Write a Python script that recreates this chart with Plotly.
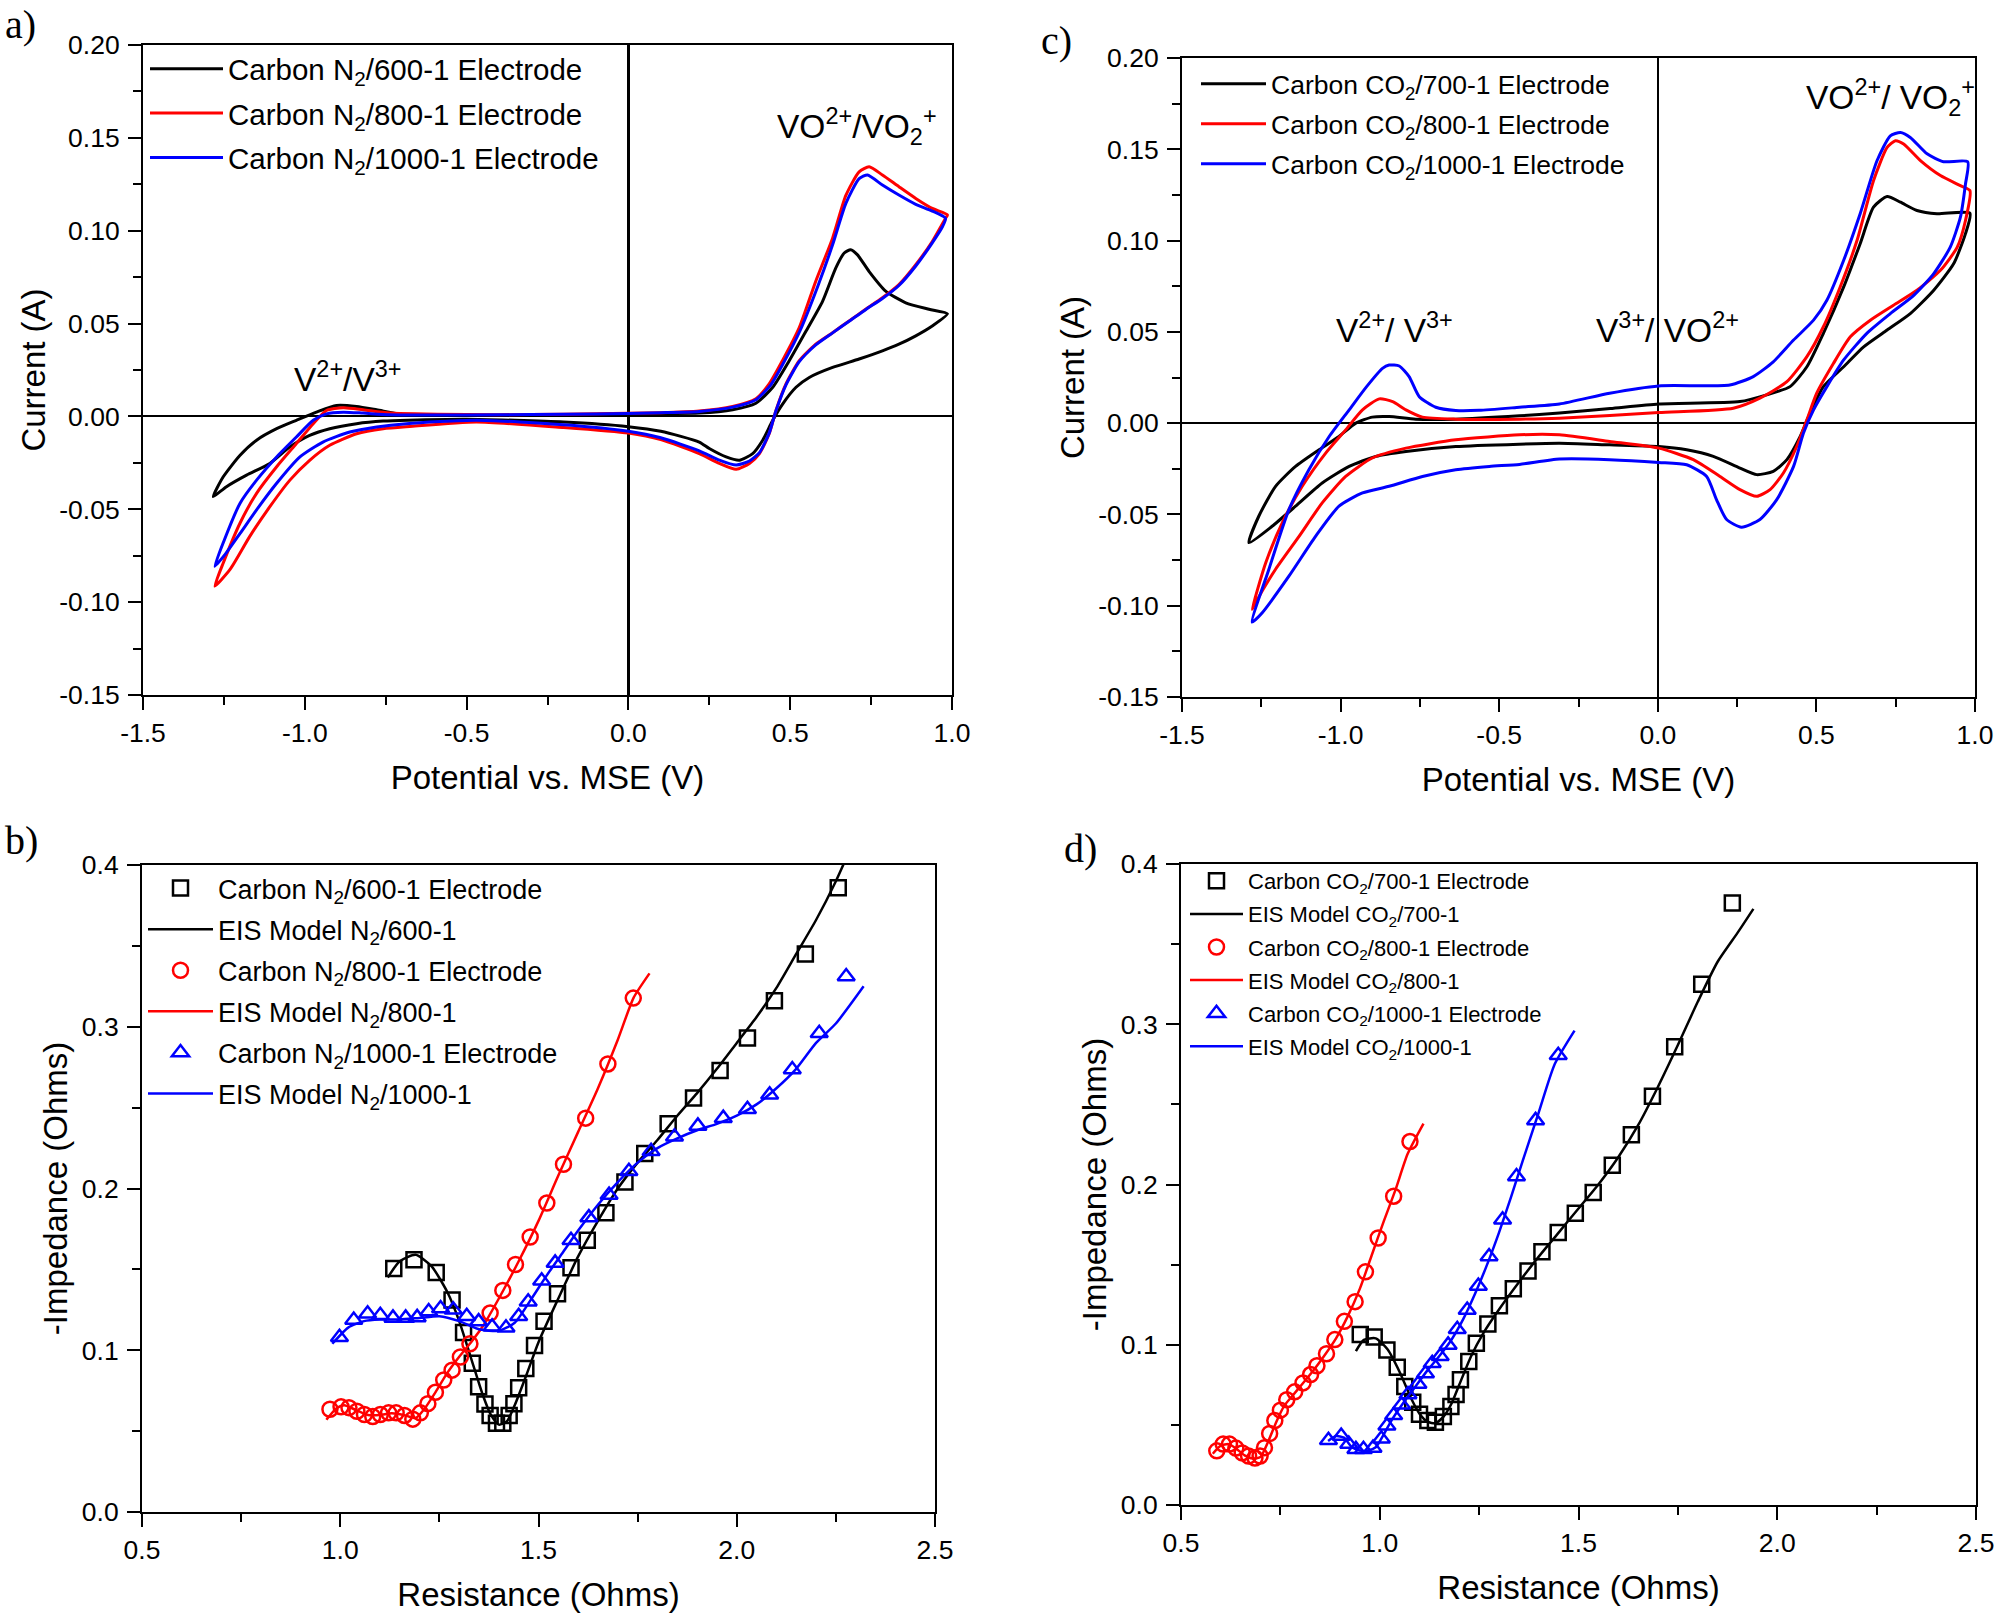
import plotly.graph_objects as go

# ---------------- Panel a: CV, N2 carbons ----------------
a600_x = [-1.283, -1.252, -1.200, -1.149, -1.087, -1.026, -0.964, -0.902, -0.840, -0.778, -0.697, -0.500, -0.300, -0.100, 0.100,
          0.219, 0.322, 0.394, 0.446, 0.497, 0.549, 0.600, 0.641, 0.667, 0.687, 0.708, 0.744, 0.795, 0.857, 0.929, 0.986,
          0.939, 0.888, 0.836, 0.785, 0.713, 0.631, 0.559, 0.518, 0.477, 0.446, 0.415, 0.384, 0.343, 0.302, 0.250, 0.219,
          0.100, 0.000, -0.200, -0.500, -0.680, -0.758, -0.840, -0.923, -0.985, -1.046, -1.108, -1.180, -1.242, -1.283]
a600_y = [-0.0432, -0.0325, -0.0209, -0.0128, -0.0066, -0.0021, 0.0023, 0.0059, 0.0054, 0.0036, 0.0010, 0.0005, 0.0005, 0.0010, 0.0015,
          0.0018, 0.0036, 0.0071, 0.0157, 0.0300, 0.0460, 0.0620, 0.0800, 0.0880, 0.0898, 0.0870, 0.0780, 0.0675, 0.0612, 0.0577, 0.0553,
          0.0487, 0.0434, 0.0389, 0.0353, 0.0309, 0.0264, 0.0210, 0.0157, 0.0068, -0.0021, -0.0128, -0.0200, -0.0236, -0.0218, -0.0173, -0.0138,
          -0.0080, -0.0055, -0.0030, -0.0015, -0.0020, -0.0025, -0.0039, -0.0066, -0.0102, -0.0164, -0.0253, -0.0316, -0.0378, -0.0432]

a800_x = [-1.278, -1.252, -1.200, -1.149, -1.087, -1.026, -0.974, -0.933, -0.881, -0.820, -0.737, -0.500, -0.300, -0.100, 0.100,
          0.219, 0.322, 0.394, 0.435, 0.476, 0.528, 0.579, 0.631, 0.672, 0.713, 0.744, 0.785, 0.836, 0.888, 0.939, 0.986,
          0.980, 0.939, 0.888, 0.836, 0.785, 0.733, 0.682, 0.631, 0.579, 0.528, 0.487, 0.456, 0.435, 0.405, 0.374, 0.333, 0.281, 0.219,
          0.100, 0.000, -0.200, -0.470, -0.676, -0.758, -0.840, -0.923, -0.985, -1.046, -1.108, -1.170, -1.231, -1.278]
a800_y = [-0.0914, -0.0789, -0.0574, -0.0414, -0.0271, -0.0146, -0.0039, 0.0032, 0.0047, 0.0036, 0.0018, 0.0010, 0.0010, 0.0015, 0.0020,
          0.0029, 0.0054, 0.0095, 0.0175, 0.0300, 0.0478, 0.0728, 0.0960, 0.1190, 0.1317, 0.1344, 0.1300, 0.1237, 0.1174, 0.1120, 0.1085,
          0.1067, 0.0942, 0.0817, 0.0710, 0.0639, 0.0577, 0.0514, 0.0451, 0.0389, 0.0300, 0.0175, 0.0032, -0.0093, -0.0200, -0.0253, -0.0285, -0.0253, -0.0200,
          -0.0125, -0.0090, -0.0060, -0.0030, -0.0054, -0.0066, -0.0093, -0.0155, -0.0236, -0.0343, -0.0486, -0.0646, -0.0824, -0.0914]

a1000_x = [-1.278, -1.252, -1.200, -1.149, -1.087, -1.026, -0.974, -0.933, -0.881, -0.820, -0.737, -0.500, -0.300, -0.100, 0.100,
           0.219, 0.322, 0.394, 0.440, 0.480, 0.530, 0.585, 0.631, 0.672, 0.713, 0.739, 0.785, 0.836, 0.888, 0.939, 0.980,
           0.970, 0.939, 0.888, 0.836, 0.785, 0.733, 0.682, 0.631, 0.579, 0.528, 0.487, 0.456, 0.435, 0.405, 0.374, 0.333, 0.281, 0.219,
           0.100, 0.000, -0.200, -0.470, -0.686, -0.778, -0.861, -0.944, -1.015, -1.087, -1.149, -1.200, -1.245, -1.278]
a1000_y = [-0.0807, -0.0680, -0.0467, -0.0343, -0.0218, -0.0111, -0.0021, 0.0014, 0.0023, 0.0018, 0.0009, 0.0008, 0.0010, 0.0013, 0.0020,
           0.0027, 0.0050, 0.0090, 0.0170, 0.0290, 0.0460, 0.0700, 0.0924, 0.1147, 0.1280, 0.1300, 0.1246, 0.1192, 0.1142, 0.1106, 0.1067,
           0.1020, 0.0935, 0.0810, 0.0705, 0.0635, 0.0575, 0.0512, 0.0450, 0.0385, 0.0295, 0.0170, 0.0030, -0.0090, -0.0195, -0.0240, -0.0262, -0.0235, -0.0185,
           -0.0115, -0.0080, -0.0045, -0.0020, -0.0039, -0.0057, -0.0084, -0.0138, -0.0218, -0.0360, -0.0503, -0.0630, -0.0740, -0.0807]

# ---------------- Panel c: CV, CO2 carbons ----------------
c700_x = [-1.289, -1.258, -1.205, -1.142, -1.068, -1.005, -0.952, -0.900, -0.847, -0.763, -0.637, -0.436, -0.310, -0.150, 0.003,
          0.259, 0.343, 0.417, 0.470, 0.522, 0.586, 0.638, 0.680, 0.723, 0.765, 0.817, 0.880, 0.984,
          0.970, 0.933, 0.870, 0.796, 0.723, 0.649, 0.586, 0.522, 0.480, 0.449, 0.407, 0.364, 0.312, 0.259, 0.175, 0.091, 0.003,
          -0.152, -0.310, -0.436, -0.637, -0.794, -0.889, -0.973, -1.058, -1.142, -1.216, -1.289]
c700_y = [-0.0655, -0.0510, -0.0346, -0.0237, -0.0146, -0.0073, 0.0000, 0.0033, 0.0036, 0.0022, 0.0022, 0.0040, 0.0055, 0.0080, 0.0105,
          0.0118, 0.0155, 0.0200, 0.0309, 0.0492, 0.0746, 0.0983, 0.1183, 0.1241, 0.1210, 0.1165, 0.1147, 0.1150,
          0.1038, 0.0874, 0.0728, 0.0600, 0.0510, 0.0418, 0.0309, 0.0200, 0.0055, -0.0073, -0.0200, -0.0264, -0.0282, -0.0246, -0.0182, -0.0146, -0.0128,
          -0.0119, -0.0110, -0.0115, -0.0128, -0.0155, -0.0182, -0.0237, -0.0328, -0.0455, -0.0565, -0.0655]

c800_x = [-1.279, -1.236, -1.184, -1.121, -1.047, -0.984, -0.931, -0.878, -0.836, -0.794, -0.742, -0.637, -0.436, -0.310, 0.003,
          0.238, 0.322, 0.407, 0.470, 0.522, 0.575, 0.628, 0.680, 0.723, 0.749, 0.775, 0.828, 0.891, 0.954, 0.984,
          0.970, 0.944, 0.891, 0.817, 0.743, 0.670, 0.607, 0.554, 0.501, 0.470, 0.438, 0.396, 0.354, 0.312, 0.259, 0.196, 0.112, 0.003,
          -0.152, -0.310, -0.436, -0.637, -0.794, -0.900, -0.984, -1.058, -1.131, -1.205, -1.268, -1.279]
c800_y = [-0.1020, -0.0765, -0.0546, -0.0346, -0.0164, -0.0037, 0.0073, 0.0133, 0.0118, 0.0073, 0.0033, 0.0022, 0.0022, 0.0027, 0.0058,
          0.0082, 0.0137, 0.0227, 0.0364, 0.0528, 0.0746, 0.1000, 0.1328, 0.1510, 0.1547, 0.1529, 0.1438, 0.1356, 0.1301, 0.1274,
          0.1110, 0.0964, 0.0837, 0.0728, 0.0646, 0.0564, 0.0473, 0.0328, 0.0164, 0.0018, -0.0128, -0.0273, -0.0364, -0.0401, -0.0364, -0.0292, -0.0200, -0.0137,
          -0.0100, -0.0064, -0.0064, -0.0091, -0.0137, -0.0191, -0.0292, -0.0437, -0.0620, -0.0800, -0.0983, -0.1020]

c1000_x = [-1.279, -1.226, -1.163, -1.100, -1.036, -0.973, -0.918, -0.868, -0.847, -0.815, -0.784, -0.752, -0.700, -0.637, -0.563,
           -0.436, -0.310, -0.152, 0.003, 0.227, 0.301, 0.364, 0.428, 0.491, 0.533, 0.586, 0.638, 0.691, 0.733, 0.765, 0.796,
           0.849, 0.901, 0.977,
           0.970, 0.954, 0.922, 0.870, 0.807, 0.733, 0.659, 0.586, 0.533, 0.491, 0.459, 0.428, 0.375, 0.322, 0.264, 0.217, 0.185, 0.154,
           0.091, 0.003, -0.152, -0.310, -0.436, -0.531, -0.637, -0.742, -0.847, -0.931, -1.005, -1.079, -1.163, -1.247, -1.279]
c1000_y = [-0.1090, -0.0800, -0.0474, -0.0255, -0.0073, 0.0073, 0.0200, 0.0300, 0.0318, 0.0313, 0.0255, 0.0145, 0.0087, 0.0069, 0.0070,
           0.0087, 0.0105, 0.0164, 0.0204, 0.0209, 0.0255, 0.0336, 0.0455, 0.0564, 0.0673, 0.0892, 0.1147, 0.1437, 0.1574, 0.1592, 0.1565,
           0.1475, 0.1432, 0.1432,
           0.1310, 0.1128, 0.0964, 0.0819, 0.0700, 0.0600, 0.0492, 0.0346, 0.0200, 0.0073, -0.0055, -0.0237, -0.0419, -0.0528, -0.0570, -0.0528, -0.0419, -0.0292,
           -0.0228, -0.0215, -0.0200, -0.0197, -0.0226, -0.0237, -0.0255, -0.0292, -0.0346, -0.0382, -0.0455, -0.0620, -0.0838, -0.1038, -0.1090]

# ---------------- Panel b: EIS, N2 carbons ----------------
b600_x = [1.135, 1.186, 1.242, 1.282, 1.311, 1.333, 1.349, 1.365, 1.378, 1.394, 1.410, 1.426, 1.438, 1.450, 1.468, 1.490,
          1.514, 1.548, 1.582, 1.623, 1.670, 1.718, 1.768, 1.827, 1.891, 1.958, 2.027, 2.095, 2.173, 2.256]
b600_y = [0.1506, 0.1560, 0.1480, 0.1310, 0.1110, 0.0920, 0.0774, 0.0668, 0.0597, 0.0548, 0.0548, 0.0597, 0.0670, 0.0768, 0.0887, 0.1030,
          0.1180, 0.1350, 0.1510, 0.1680, 0.1850, 0.2040, 0.2216, 0.2400, 0.2560, 0.2730, 0.2930, 0.3160, 0.3450, 0.3860]
b600m_x = [1.12, 1.15, 1.19, 1.23, 1.27, 1.30, 1.33, 1.36, 1.38, 1.40, 1.42, 1.44, 1.47, 1.50, 1.55, 1.60, 1.65, 1.70,
           1.75, 1.80, 1.85, 1.90, 1.95, 2.00, 2.05, 2.10, 2.15, 2.20, 2.25, 2.29]
b600m_y = [0.145, 0.155, 0.159, 0.152, 0.136, 0.118, 0.095, 0.072, 0.060, 0.054, 0.056, 0.066, 0.085, 0.105, 0.132, 0.158, 0.180, 0.200,
           0.216, 0.230, 0.245, 0.259, 0.274, 0.290, 0.306, 0.324, 0.345, 0.366, 0.390, 0.412]

b800_x = [0.974, 1.002, 1.022, 1.042, 1.061, 1.082, 1.101, 1.122, 1.141, 1.162, 1.183, 1.202, 1.221, 1.240, 1.261, 1.282,
          1.303, 1.327, 1.378, 1.410, 1.442, 1.479, 1.521, 1.563, 1.619, 1.675, 1.739]
b800_y = [0.0635, 0.0650, 0.0645, 0.0623, 0.0603, 0.0590, 0.0603, 0.0613, 0.0613, 0.0597, 0.0574, 0.0613, 0.0670, 0.0740, 0.0816, 0.0877,
          0.0958, 0.1040, 0.1230, 0.1370, 0.1530, 0.1700, 0.1910, 0.2150, 0.2435, 0.2770, 0.3177]
b800m_x = [0.965, 0.99, 1.01, 1.04, 1.07, 1.10, 1.13, 1.16, 1.19, 1.21, 1.24, 1.27, 1.30, 1.33, 1.36, 1.40, 1.45, 1.50,
           1.55, 1.60, 1.65, 1.70, 1.74, 1.78]
b800m_y = [0.057, 0.064, 0.066, 0.063, 0.060, 0.060, 0.061, 0.060, 0.058, 0.063, 0.074, 0.086, 0.096, 0.105, 0.115, 0.132, 0.155, 0.180,
           0.208, 0.235, 0.262, 0.292, 0.318, 0.333]

b1000_x = [0.998, 1.034, 1.069, 1.101, 1.133, 1.165, 1.194, 1.223, 1.253, 1.285, 1.319, 1.349, 1.383, 1.418, 1.450, 1.474,
           1.508, 1.542, 1.582, 1.627, 1.678, 1.728, 1.784, 1.843, 1.902, 1.966, 2.027, 2.083, 2.140, 2.208, 2.276]
b1000_y = [0.1080, 0.1187, 0.1226, 0.1216, 0.1200, 0.1200, 0.1203, 0.1240, 0.1258, 0.1250, 0.1210, 0.1177, 0.1145, 0.1139, 0.1210, 0.1300,
           0.1430, 0.1540, 0.1680, 0.1820, 0.1960, 0.2106, 0.2230, 0.2320, 0.2387, 0.2435, 0.2490, 0.2580, 0.2735, 0.2960, 0.3310]
b1000m_x = [0.98, 1.02, 1.06, 1.10, 1.15, 1.20, 1.25, 1.30, 1.35, 1.40, 1.44, 1.48, 1.52, 1.56, 1.60, 1.65, 1.70, 1.75,
            1.80, 1.85, 1.90, 1.95, 2.00, 2.05, 2.10, 2.15, 2.20, 2.25, 2.32]
b1000m_y = [0.104, 0.114, 0.118, 0.119, 0.119, 0.120, 0.121, 0.118, 0.113, 0.112, 0.117, 0.131, 0.146, 0.160, 0.174, 0.190, 0.204, 0.216,
            0.225, 0.231, 0.236, 0.240, 0.245, 0.252, 0.262, 0.274, 0.290, 0.302, 0.325]

# ---------------- Panel d: EIS, CO2 carbons ----------------
d700_x = [0.951, 0.986, 1.018, 1.044, 1.063, 1.083, 1.100, 1.121, 1.140, 1.160, 1.179, 1.192, 1.203, 1.224, 1.243, 1.272,
          1.301, 1.336, 1.373, 1.408, 1.449, 1.492, 1.537, 1.585, 1.633, 1.686, 1.742, 1.810, 1.887]
d700_y = [0.1064, 0.1048, 0.0967, 0.0859, 0.0739, 0.0641, 0.0566, 0.0527, 0.0517, 0.0553, 0.0615, 0.0690, 0.0781, 0.0895, 0.1009, 0.1130,
          0.1243, 0.1350, 0.1460, 0.1580, 0.1700, 0.1820, 0.1950, 0.2120, 0.2310, 0.2550, 0.2860, 0.3250, 0.3756]
d700m_x = [0.94, 0.96, 0.99, 1.02, 1.05, 1.08, 1.10, 1.12, 1.14, 1.16, 1.18, 1.20, 1.23, 1.26, 1.30, 1.35, 1.40, 1.45,
           1.50, 1.55, 1.60, 1.65, 1.70, 1.75, 1.80, 1.85, 1.90, 1.94]
d700m_y = [0.096, 0.103, 0.104, 0.097, 0.083, 0.066, 0.057, 0.052, 0.051, 0.055, 0.063, 0.075, 0.093, 0.107, 0.122, 0.139, 0.155, 0.170,
           0.185, 0.200, 0.217, 0.237, 0.261, 0.287, 0.314, 0.339, 0.357, 0.372]

d800_x = [0.590, 0.606, 0.622, 0.638, 0.654, 0.670, 0.686, 0.699, 0.710, 0.723, 0.736, 0.750, 0.766, 0.786, 0.807, 0.826,
          0.842, 0.866, 0.887, 0.911, 0.938, 0.964, 0.996, 1.035, 1.076]
d800_y = [0.0338, 0.0380, 0.0380, 0.0355, 0.0325, 0.0306, 0.0293, 0.0306, 0.0358, 0.0446, 0.0527, 0.0592, 0.0657, 0.0706, 0.0762, 0.0814,
          0.0869, 0.0944, 0.1032, 0.1146, 0.1269, 0.1455, 0.1666, 0.1927, 0.2268]
d800m_x = [0.58, 0.60, 0.62, 0.64, 0.66, 0.68, 0.70, 0.72, 0.74, 0.76, 0.78, 0.80, 0.83, 0.86, 0.89, 0.92, 0.95, 0.98,
           1.01, 1.04, 1.07, 1.11]
d800m_y = [0.032, 0.037, 0.038, 0.035, 0.031, 0.029, 0.030, 0.040, 0.052, 0.062, 0.068, 0.074, 0.083, 0.093, 0.104, 0.118, 0.135, 0.156,
           0.177, 0.197, 0.219, 0.238]

d1000_x = [0.871, 0.903, 0.922, 0.940, 0.959, 0.983, 1.004, 1.018, 1.035, 1.055, 1.071, 1.096, 1.115, 1.132, 1.152, 1.172,
           1.195, 1.220, 1.248, 1.275, 1.309, 1.344, 1.392, 1.449]
d1000_y = [0.0404, 0.0430, 0.0380, 0.0348, 0.0348, 0.0355, 0.0413, 0.0495, 0.0560, 0.0625, 0.0690, 0.0755, 0.0820, 0.0885, 0.0928, 0.0999,
           0.1097, 0.1217, 0.1367, 0.1550, 0.1780, 0.2050, 0.2400, 0.2806]
d1000m_x = [0.87, 0.89, 0.91, 0.93, 0.95, 0.97, 0.99, 1.01, 1.03, 1.06, 1.09, 1.12, 1.15, 1.18, 1.21, 1.24, 1.27, 1.30,
            1.33, 1.36, 1.40, 1.44, 1.49]
d1000m_y = [0.040, 0.043, 0.042, 0.036, 0.034, 0.034, 0.036, 0.044, 0.053, 0.064, 0.074, 0.084, 0.093, 0.103, 0.116, 0.132, 0.150, 0.170,
            0.192, 0.215, 0.245, 0.275, 0.296]

# ---------------- tick labels ----------------
cv_xticks = [-1.5, -1.0, -0.5, 0.0, 0.5, 1.0]
cv_xtext = ["-1.5", "-1.0", "-0.5", "0.0", "0.5", "1.0"]
cv_yticks = [-0.15, -0.10, -0.05, 0.00, 0.05, 0.10, 0.15, 0.20]
cv_ytext = ["-0.15", "-0.10", "-0.05", "0.00", "0.05", "0.10", "0.15", "0.20"]
eis_xticks = [0.5, 1.0, 1.5, 2.0, 2.5]
eis_xtext = ["0.5", "1.0", "1.5", "2.0", "2.5"]
eis_yticks = [0.0, 0.1, 0.2, 0.3, 0.4]
eis_ytext = ["0.0", "0.1", "0.2", "0.3", "0.4"]

BLACK, RED, BLUE = "#000000", "#ff0000", "#0000ff"
FONT = "Liberation Sans, Arial, sans-serif"
SERIF = "Liberation Serif, Times New Roman, serif"

fig = go.Figure()

def cv(x, y, color, name, ax, leg):
    fig.add_trace(go.Scatter(x=x, y=y, mode="lines", name=name,
                             line=dict(color=color, width=3, shape="spline", smoothing=0.6),
                             xaxis="x" + ax, yaxis="y" + ax, legend=leg, legendgroup=name))

def pts(x, y, color, symbol, name, ax, leg, size=15):
    fig.add_trace(go.Scatter(x=x, y=y, mode="markers", name=name,
                             marker=dict(symbol=symbol, size=size, color=color, line=dict(color=color, width=2.5)),
                             xaxis="x" + ax, yaxis="y" + ax, legend=leg, legendgroup=name))

def model(x, y, color, name, ax, leg):
    fig.add_trace(go.Scatter(x=x, y=y, mode="lines", name=name,
                             line=dict(color=color, width=2.5, shape="spline", smoothing=0.6),
                             xaxis="x" + ax, yaxis="y" + ax, legend=leg, legendgroup=name))

# panel a
cv(a600_x, a600_y, BLACK, "Carbon N<sub>2</sub>/600-1 Electrode", "", "legend")
cv(a800_x, a800_y, RED, "Carbon N<sub>2</sub>/800-1 Electrode", "", "legend")
cv(a1000_x, a1000_y, BLUE, "Carbon N<sub>2</sub>/1000-1 Electrode", "", "legend")
# panel c
cv(c700_x, c700_y, BLACK, "Carbon CO<sub>2</sub>/700-1 Electrode", "2", "legend2")
cv(c800_x, c800_y, RED, "Carbon CO<sub>2</sub>/800-1 Electrode", "2", "legend2")
cv(c1000_x, c1000_y, BLUE, "Carbon CO<sub>2</sub>/1000-1 Electrode", "2", "legend2")
# panel b
pts(b600_x, b600_y, BLACK, "square-open", "Carbon N<sub>2</sub>/600-1 Electrode", "3", "legend3")
model(b600m_x, b600m_y, BLACK, "EIS Model N<sub>2</sub>/600-1", "3", "legend3")
pts(b800_x, b800_y, RED, "circle-open", "Carbon N<sub>2</sub>/800-1 Electrode", "3", "legend3")
model(b800m_x, b800m_y, RED, "EIS Model N<sub>2</sub>/800-1", "3", "legend3")
pts(b1000_x, b1000_y, BLUE, "triangle-up-open", "Carbon N<sub>2</sub>/1000-1 Electrode", "3", "legend3")
model(b1000m_x, b1000m_y, BLUE, "EIS Model N<sub>2</sub>/1000-1", "3", "legend3")
# panel d
pts(d700_x, d700_y, BLACK, "square-open", "Carbon CO<sub>2</sub>/700-1 Electrode", "4", "legend4")
model(d700m_x, d700m_y, BLACK, "EIS Model CO<sub>2</sub>/700-1", "4", "legend4")
pts(d800_x, d800_y, RED, "circle-open", "Carbon CO<sub>2</sub>/800-1 Electrode", "4", "legend4")
model(d800m_x, d800m_y, RED, "EIS Model CO<sub>2</sub>/800-1", "4", "legend4")
pts(d1000_x, d1000_y, BLUE, "triangle-up-open", "Carbon CO<sub>2</sub>/1000-1 Electrode", "4", "legend4")
model(d1000m_x, d1000m_y, BLUE, "EIS Model CO<sub>2</sub>/1000-1", "4", "legend4")

W, H = 1997, 1617

def px_x(v):
    return v / W

def px_y(v):
    return 1 - v / H

def dom_x(a, b):
    return [px_x(a), px_x(b)]

def dom_y(top, bottom):
    return [px_y(bottom), px_y(top)]

def axis(domain, anchor, rng, vals, text, minor_dtick, title, standoff, lblgap, zeroline=False, zw=1.5):
    return dict(domain=domain, anchor=anchor, range=rng, tickmode="array", tickvals=vals, ticktext=text,
                ticks="outside", ticklen=13, tickwidth=2, tickcolor="black", ticklabelstandoff=lblgap,
                minor=dict(tickmode="linear", tick0=vals[0], dtick=minor_dtick, ticks="outside", ticklen=8,
                           tickwidth=2, tickcolor="black"),
                showline=True, linecolor="black", linewidth=2, mirror=True, showgrid=False,
                zeroline=zeroline, zerolinecolor="black", zerolinewidth=zw,
                tickfont=dict(family=FONT, size=26.5, color="black"),
                title=dict(text=title, font=dict(family=FONT, size=33, color="black"), standoff=standoff))

def legend(left, top, size, itemwidth, gap):
    return dict(x=px_x(left), y=px_y(top), xanchor="left", yanchor="top", bgcolor="rgba(0,0,0,0)",
                borderwidth=0, itemwidth=itemwidth, tracegroupgap=gap,
                font=dict(family=FONT, size=size, color="black"))

fig.update_layout(
    width=W, height=H, margin=dict(l=0, r=0, t=0, b=0, autoexpand=False),
    paper_bgcolor="white", plot_bgcolor="white",
    font=dict(family=FONT, color="black"),
    xaxis=axis(dom_x(143, 952), "y", [-1.5, 1.0], cv_xticks, cv_xtext, 0.25, "Potential vs. MSE (V)", 19, 0, True, 3),
    yaxis=axis(dom_y(45, 695), "x", [-0.15, 0.20], cv_yticks, cv_ytext, 0.025, "Current (A)", 4, 3, True, 1.5),
    xaxis2=axis(dom_x(1182, 1975), "y2", [-1.5, 1.0], cv_xticks, cv_xtext, 0.25, "Potential vs. MSE (V)", 19, 0, True, 1.5),
    yaxis2=axis(dom_y(58, 697), "x2", [-0.15, 0.20], cv_yticks, cv_ytext, 0.025, "Current (A)", 4, 3, True, 1.5),
    xaxis3=axis(dom_x(142, 935), "y3", [0.5, 2.5], eis_xticks, eis_xtext, 0.25, "Resistance (Ohms)", 19, 0),
    yaxis3=axis(dom_y(865, 1512), "x3", [0.0, 0.4], eis_yticks, eis_ytext, 0.05, "-Impedance (Ohms)", 4, 3),
    xaxis4=axis(dom_x(1181, 1976), "y4", [0.5, 2.5], eis_xticks, eis_xtext, 0.25, "Resistance (Ohms)", 19, 0),
    yaxis4=axis(dom_y(864, 1505), "x4", [0.0, 0.4], eis_yticks, eis_ytext, 0.05, "-Impedance (Ohms)", 4, 3),
    legend=legend(145, 43, 29.5, 73, 3),
    legend2=legend(1196, 60, 26.5, 65, 2.5),
    legend3=legend(143, 864, 27, 65, 3),
    legend4=legend(1185, 860, 22, 53, 1.5),
    showlegend=True,
)

ann_font = dict(family=FONT, size=33.5, color="black")
label_font = dict(family=SERIF, size=40, color="black")

def paper_label(text, left, top):
    return dict(x=px_x(left), y=px_y(top), xref="paper", yref="paper", xanchor="left", yanchor="top",
                text=text, showarrow=False, font=label_font)

annotations = [
    dict(x=0.706, y=0.156, xref="x", yref="y", text="VO<sup>2+</sup>/VO<sub>2</sub><sup>+</sup>", showarrow=False, font=ann_font),
    dict(x=-0.868, y=0.0214, xref="x", yref="y", text="V<sup>2+</sup>/V<sup>3+</sup>", showarrow=False, font=ann_font),
    dict(x=0.734, y=0.1786, xref="x2", yref="y2", text="VO<sup>2+</sup>/ VO<sub>2</sub><sup>+</sup>", showarrow=False, font=ann_font),
    dict(x=-0.829, y=0.052, xref="x2", yref="y2", text="V<sup>2+</sup>/ V<sup>3+</sup>", showarrow=False, font=ann_font),
    dict(x=0.031, y=0.052, xref="x2", yref="y2", text="V<sup>3+</sup>/ VO<sup>2+</sup>", showarrow=False, font=ann_font),
    paper_label("a)", 3, 0),
    paper_label("c)", 1039, 16),
    paper_label("b)", 3, 816),
    paper_label("d)", 1062, 824),
]
fig.update_layout(annotations=annotations)

fig.write_html("out.html",
               config={"displayModeBar": False},
               post_script="document.body.style.margin='0px';document.body.style.overflow='hidden';")
